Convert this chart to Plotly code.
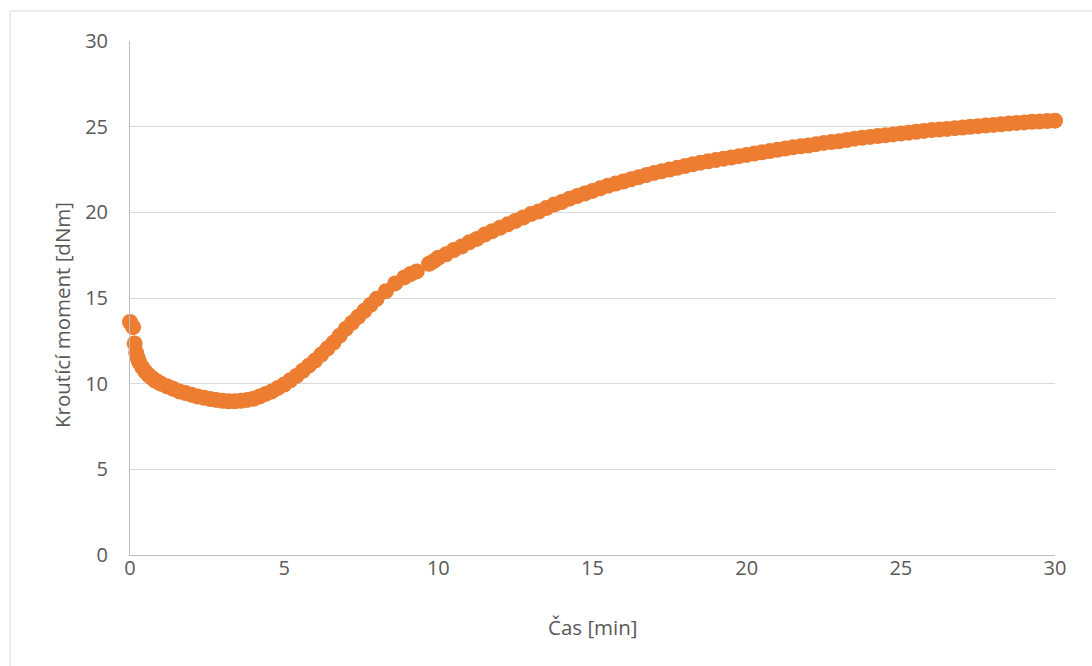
import plotly.graph_objects as go

# Time [min]
cas = [0.0, 0.1, 0.15, 0.2, 0.25, 0.3, 0.4, 0.5, 0.6, 0.7, 0.8, 0.9, 1.0,
       1.2, 1.4, 1.6, 1.8, 2.0, 2.2, 2.4, 2.6, 2.8, 3.0, 3.2, 3.4, 3.6, 3.8,
       4.0, 4.2, 4.4, 4.6, 4.8, 5.0, 5.2, 5.4, 5.6, 5.8, 6.0, 6.2, 6.4, 6.6,
       6.8, 7.0, 7.2, 7.4, 7.6, 7.8, 8.0, 8.3, 8.6, 8.9, 9.1, 9.3, 9.7, 9.85, 10.0,
       10.25, 10.5, 10.75, 11.0, 11.25, 11.5, 11.75, 12.0, 12.25, 12.5, 12.75,
       13.0, 13.25, 13.5, 13.75, 14.0, 14.25, 14.5, 14.75, 15.0, 15.25, 15.5,
       15.75, 16.0, 16.25, 16.5, 16.75, 17.0, 17.25, 17.5, 17.75, 18.0, 18.25,
       18.5, 18.75, 19.0, 19.25, 19.5, 19.75, 20.0, 20.25, 20.5, 20.75, 21.0,
       21.25, 21.5, 21.75, 22.0, 22.25, 22.5, 22.75, 23.0, 23.25, 23.5, 23.75,
       24.0, 24.25, 24.5, 24.75, 25.0, 25.25, 25.5, 25.75, 26.0, 26.25, 26.5,
       26.75, 27.0, 27.25, 27.5, 27.75, 28.0, 28.25, 28.5, 28.75, 29.0, 29.25,
       29.5, 29.75, 30.0]

# Torque [dNm]
moment = [13.6, 13.3, 12.35, 11.8, 11.5, 11.25, 10.95, 10.7, 10.5, 10.35, 10.2, 10.1, 10.0,
          9.85, 9.7, 9.55, 9.45, 9.35, 9.25, 9.18, 9.1, 9.05, 9.0, 8.97, 8.97, 9.0, 9.05,
          9.12, 9.25, 9.4, 9.55, 9.75, 9.95, 10.2, 10.45, 10.75, 11.05, 11.35, 11.7, 12.05, 12.4,
          12.8, 13.2, 13.55, 13.9, 14.25, 14.6, 14.95, 15.4, 15.85, 16.2, 16.4, 16.55, 17.0, 17.15, 17.35,
          17.55, 17.8, 18.0, 18.25, 18.45, 18.7, 18.9, 19.1, 19.3, 19.5, 19.7,
          19.9, 20.05, 20.25, 20.45, 20.6, 20.8, 20.95, 21.1, 21.25, 21.4, 21.55,
          21.68, 21.8, 21.93, 22.05, 22.18, 22.3, 22.4, 22.5, 22.6, 22.7, 22.8,
          22.9, 22.98, 23.05, 23.13, 23.2, 23.28, 23.35, 23.43, 23.5, 23.58, 23.65,
          23.72, 23.8, 23.85, 23.9, 23.98, 24.05, 24.1, 24.15, 24.22, 24.3, 24.35,
          24.4, 24.45, 24.5, 24.55, 24.6, 24.65, 24.7, 24.75, 24.8, 24.83, 24.87,
          24.91, 24.95, 24.99, 25.03, 25.07, 25.1, 25.14, 25.18, 25.22, 25.25, 25.28,
          25.3, 25.33, 25.35]

x_ticks = [0, 5, 10, 15, 20, 25, 30]
y_ticks = [0, 5, 10, 15, 20, 25, 30]
x_title = "Čas [min]"
y_title = "Kroutící moment [dNm]"

FONT = "Open Sans"
TXT = "#595959"
TICKFONT = dict(family=FONT, size=20, color=TXT)
TITLEFONT = dict(family=FONT, size=20.5, color=TXT)

fig = go.Figure()
fig.add_trace(go.Scatter(
    x=cas, y=moment, mode="markers",
    marker=dict(size=16, color="#ED7D31", line=dict(width=0)),
    cliponaxis=False, showlegend=False,
))

fig.update_layout(
    width=1092, height=666,
    margin=dict(l=130, r=37, t=41, b=111),
    paper_bgcolor="white", plot_bgcolor="white",
    font=dict(family=FONT, color=TXT, size=20),
    xaxis=dict(
        range=[0, 30], tickvals=x_ticks, ticktext=[str(v) for v in x_ticks],
        showgrid=False, zeroline=False, showline=True, linecolor="#bfbfbf", linewidth=1,
        ticks="", ticklabelstandoff=-5, tickfont=TICKFONT,
    ),
    yaxis=dict(
        range=[0, 30], tickvals=y_ticks, ticktext=[str(v) for v in y_ticks],
        showgrid=True, gridcolor="#d9d9d9", gridwidth=1, zeroline=False,
        showline=True, linecolor="#bfbfbf", linewidth=1,
        ticks="", ticklabelstandoff=17, tickfont=TICKFONT,
    ),
    annotations=[
        dict(text=x_title, xref="paper", yref="paper", x=0.5, y=-0.140,
             xanchor="center", yanchor="middle", showarrow=False, font=TITLEFONT),
        dict(text=y_title, xref="paper", yref="paper", x=-0.0735, y=0.467,
             xanchor="center", yanchor="middle", showarrow=False, textangle=-90, font=TITLEFONT),
    ],
    shapes=[dict(type="rect", xref="paper", yref="paper",
                 x0=-0.1297, x1=1.2, y0=-0.3, y1=1.0584,
                 line=dict(color="#d9d9d9", width=1), fillcolor="rgba(0,0,0,0)", layer="below")],
)

fig.write_html("out.html")
